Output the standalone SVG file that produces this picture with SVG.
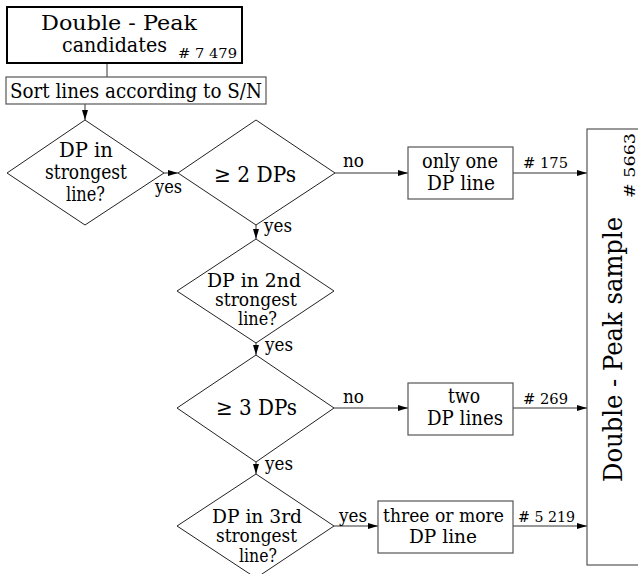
<svg xmlns="http://www.w3.org/2000/svg" width="638" height="574" viewBox="0 0 638 574">
<style>
.t{font-size:20px}
.u{font-size:18px}
.s{font-size:15px}
.y{font-size:18px}
.d{fill:#fff;stroke:#222;stroke-width:1}
.b{fill:#fff;stroke:#555;stroke-width:1.2}
.c{fill:none;stroke:#333;stroke-width:1}
</style>
<defs>
<marker id="ar" viewBox="0 0 10 6" refX="10" refY="3" markerWidth="10" markerHeight="6" markerUnits="userSpaceOnUse" orient="auto">
<path d="M0,0L10,3L0,6z" fill="#000"/>
</marker>
</defs>
<g font-family="'DejaVu Serif', serif" fill="#000">
<g id="connectors">
<line class="c" x1="107" y1="63" x2="107" y2="77"/>
<line class="c" x1="85" y1="104" x2="85" y2="120" marker-end="url(#ar)"/>
<line class="c" x1="164" y1="173" x2="178" y2="173" marker-end="url(#ar)"/>
<line class="c" x1="335" y1="173" x2="408" y2="173" marker-end="url(#ar)"/>
<line class="c" x1="513" y1="173" x2="587" y2="173" marker-end="url(#ar)"/>
<line class="c" x1="256" y1="225" x2="256" y2="239" marker-end="url(#ar)"/>
<line class="c" x1="256" y1="343" x2="256" y2="355" marker-end="url(#ar)"/>
<line class="c" x1="334" y1="408" x2="408" y2="408" marker-end="url(#ar)"/>
<line class="c" x1="513" y1="408" x2="587" y2="408" marker-end="url(#ar)"/>
<line class="c" x1="256" y1="462" x2="256" y2="474" marker-end="url(#ar)"/>
<line class="c" x1="334" y1="526" x2="378" y2="526" marker-end="url(#ar)"/>
<line class="c" x1="513" y1="526" x2="587" y2="526" marker-end="url(#ar)"/>
<text class="y" x="155" y="193" textLength="27" lengthAdjust="spacingAndGlyphs">yes</text>
<text class="y" x="264" y="232" textLength="28" lengthAdjust="spacingAndGlyphs">yes</text>
<text class="y" x="343" y="167" textLength="21" lengthAdjust="spacingAndGlyphs">no</text>
<text class="y" x="265" y="351" textLength="28" lengthAdjust="spacingAndGlyphs">yes</text>
<text class="y" x="343" y="403" textLength="21" lengthAdjust="spacingAndGlyphs">no</text>
<text class="y" x="265" y="470" textLength="28" lengthAdjust="spacingAndGlyphs">yes</text>
<text class="y" x="339" y="522" textLength="28" lengthAdjust="spacingAndGlyphs">yes</text>
<text class="s" x="523" y="168" textLength="45" lengthAdjust="spacingAndGlyphs"># 175</text>
<text class="s" x="523" y="404" textLength="45" lengthAdjust="spacingAndGlyphs"># 269</text>
<text class="s" x="518" y="522" textLength="57" lengthAdjust="spacingAndGlyphs"># 5 219</text>
</g>
<g id="candidates">
<rect x="7" y="7" width="235" height="56" fill="#fff" stroke="#000" stroke-width="2"/>
<text x="41" y="30" font-size="20" textLength="156" lengthAdjust="spacingAndGlyphs">Double - Peak</text>
<text x="62" y="52" font-size="20" textLength="105" lengthAdjust="spacingAndGlyphs">candidates</text>
<text x="178" y="58" font-size="13" textLength="59" lengthAdjust="spacingAndGlyphs"># 7 479</text>
</g>
<g id="sort">
<rect class="b" x="6" y="77" width="260" height="27"/>
<text class="t" x="10" y="98" textLength="252" lengthAdjust="spacingAndGlyphs">Sort lines according to S/N</text>
</g>
<g id="dp1">
<polygon class="d" points="85,120 164,173 85,225 7,173"/>
<text class="t" x="59" y="157" textLength="54" lengthAdjust="spacingAndGlyphs">DP in</text>
<text class="t" x="45" y="179" textLength="82" lengthAdjust="spacingAndGlyphs">strongest</text>
<text class="t" x="66" y="201" textLength="39" lengthAdjust="spacingAndGlyphs">line?</text>
</g>
<g id="ge2">
<polygon class="d" points="256,120 335,173 256,225 178,173"/>
<text x="214" y="182" font-size="22" textLength="82" lengthAdjust="spacingAndGlyphs">≥ 2 DPs</text>
</g>
<g id="one">
<rect class="b" x="408" y="147" width="105" height="52"/>
<text class="t" x="422" y="168" textLength="76" lengthAdjust="spacingAndGlyphs">only one</text>
<text class="t" x="427" y="190" textLength="68" lengthAdjust="spacingAndGlyphs">DP line</text>
</g>
<g id="dp2">
<polygon class="d" points="256,239 334,291 256,343 177,291"/>
<text class="u" x="207" y="287" textLength="94" lengthAdjust="spacingAndGlyphs">DP in 2nd</text>
<text class="u" x="215" y="306" textLength="82" lengthAdjust="spacingAndGlyphs">strongest</text>
<text class="u" x="238" y="325" textLength="39" lengthAdjust="spacingAndGlyphs">line?</text>
</g>
<g id="ge3">
<polygon class="d" points="256,355 334,408 256,462 177,408"/>
<text x="216" y="415" font-size="22" textLength="81" lengthAdjust="spacingAndGlyphs">≥ 3 DPs</text>
</g>
<g id="two">
<rect class="b" x="408" y="383" width="105" height="52"/>
<text class="t" x="448" y="403" textLength="32" lengthAdjust="spacingAndGlyphs">two</text>
<text class="t" x="427" y="425" textLength="76" lengthAdjust="spacingAndGlyphs">DP lines</text>
</g>
<g id="dp3">
<polygon class="d" points="256,474 334,526 256,578 177,526"/>
<text class="u" x="212" y="523" textLength="90" lengthAdjust="spacingAndGlyphs">DP in 3rd</text>
<text class="u" x="216" y="542" textLength="81" lengthAdjust="spacingAndGlyphs">strongest</text>
<text class="u" x="239" y="562" textLength="38" lengthAdjust="spacingAndGlyphs">line?</text>
</g>
<g id="three">
<rect class="b" x="378" y="501" width="135" height="52"/>
<text x="383" y="522" font-size="18" textLength="121" lengthAdjust="spacingAndGlyphs">three or more</text>
<text x="409" y="543" font-size="18" textLength="68" lengthAdjust="spacingAndGlyphs">DP line</text>
</g>
<g id="sample">
<rect class="b" x="587" y="129" width="60" height="436"/>
<text x="0" y="0" transform="translate(622,482) rotate(-90)" font-size="26" textLength="265" lengthAdjust="spacingAndGlyphs">Double - Peak sample</text>
<text x="0" y="0" transform="translate(635,198) rotate(-90)" class="s" textLength="65" lengthAdjust="spacingAndGlyphs">#  5663</text>
</g>
</g>
</svg>
